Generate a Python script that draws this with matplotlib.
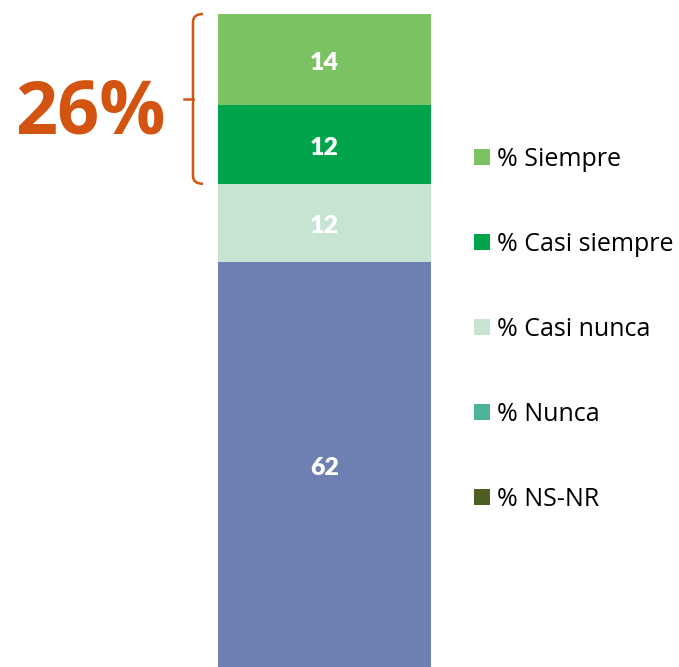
import matplotlib.pyplot as plt
from matplotlib.patches import Patch
from matplotlib.path import Path
from matplotlib.patches import PathPatch
from matplotlib.transforms import blended_transform_factory, offset_copy

# Answer shares (%), stacked from the bottom up
categories = ['% NS-NR', '% Nunca', '% Casi nunca', '% Casi siempre', '% Siempre']
values = [0, 62, 12, 12, 14]
bar_colors = ['#4F5F22', '#6E7FB1', '#C7E4D2', '#00A44B', '#7BC263']
legend_colors = ['#4F5F22', '#4DB39B', '#C7E4D2', '#00A44B', '#7BC263']
highlight = ['% Casi siempre', '% Siempre']

fig = plt.figure(figsize=(6.79, 6.67), dpi=100)
ax = fig.add_axes([218 / 679, 0, 213 / 679, 653 / 667])

# labels sit a touch lower than the segment centre
lbl_tr = offset_copy(ax.transData, fig=fig, y=-3, units='dots')
bottom = 0
for cat, val, col in zip(categories, values, bar_colors):
    if val == 0:
        continue
    ax.bar(0, val, bottom=bottom, width=1.0, color=col, linewidth=0)
    ax.text(0, bottom + val / 2, str(val), ha='center', va='center', transform=lbl_tr,
            color='white', fontsize=18, fontweight='heavy', family='Lato')
    bottom += val

ax.set_xlim(-0.5, 0.5)
ax.set_ylim(0, 100)
ax.axis('off')

# Bracket around the two top segments with their sum
hl_vals = [values[categories.index(c)] for c in highlight]
y_top = sum(values)
y_bot = y_top - sum(hl_vals)
y_mid = (y_top + y_bot) / 2
tr = blended_transform_factory(fig.transFigure, ax.transData)
xv, xr, xl = 193 / 679, 203 / 679, 184 / 679
r = 1.2
verts = [(xr, y_top), (xv, y_top), (xv, y_top - r),
         (xv, y_bot + r), (xv, y_bot), (xr, y_bot)]
codes = [Path.MOVETO, Path.CURVE3, Path.CURVE3,
         Path.LINETO, Path.CURVE3, Path.CURVE3]
orange = '#D35411'
fig.add_artist(PathPatch(Path(verts, codes), transform=tr, fill=False,
                         edgecolor=orange, linewidth=1.8))
fig.add_artist(plt.Line2D([xl, xv], [y_mid, y_mid], transform=tr,
                          color=orange, linewidth=1.8))
fig.text(90 / 679, 1 - 114 / 667, f'{sum(hl_vals)}%', ha='center', va='center',
         color=orange, fontsize=53, fontweight='bold', family='Open Sans')

handles = [Patch(facecolor=c, edgecolor='none', label=l)
           for l, c in zip(categories, legend_colors)][::-1]
fig.legend(handles=handles, loc='upper left', bbox_to_anchor=(474 / 679, 1 - 147 / 667),
           frameon=False, handlelength=0.62, handleheight=0.62,
           handletextpad=0.3, labelspacing=2.40, borderpad=0, borderaxespad=0,
           prop={'family': 'Open Sans', 'size': 18})

fig.savefig('out.png', dpi=100)
